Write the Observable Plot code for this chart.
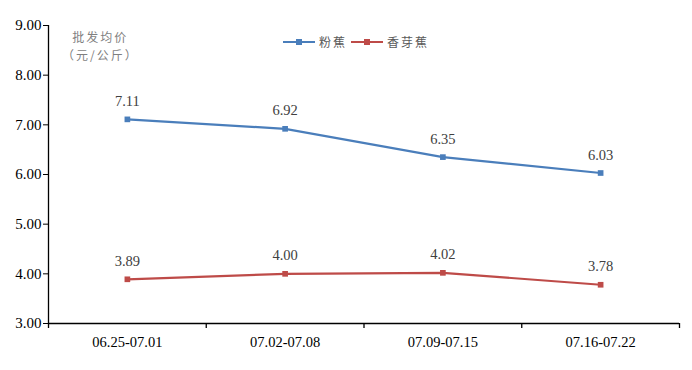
<!DOCTYPE html>
<html><head><meta charset="utf-8">
<script src="https://cdn.jsdelivr.net/npm/d3@7"></script>
<script src="https://cdn.jsdelivr.net/npm/@observablehq/plot@0.6"></script>
<style>
body{margin:0;background:#fff;}
#wrap{position:relative;width:692px;height:370px;}
#legend{position:absolute;left:283px;top:33px;font:12px "Noto Sans CJK SC",sans-serif;color:#595959;display:flex;align-items:center;letter-spacing:2px;}
#legend .sw{position:relative;width:32px;height:2px;margin-right:4px;}
#legend .sw i{position:absolute;left:13px;top:-2px;width:6px;height:6px;}
#ytitle{position:absolute;left:62px;top:28px;font:12px "Noto Sans CJK SC",sans-serif;color:#7f7f7f;text-align:center;letter-spacing:2px;line-height:18px;}
#ytitle div{height:18px;}
</style></head><body>
<div id="wrap"><div id="chart"></div>
<div id="ytitle"><div>批发均价</div><div>（元/公斤）</div></div>
<div id="legend"></div></div>
<script>
const categories = ["06.25-07.01","07.02-07.08","07.09-07.15","07.16-07.22"];
const fenjiao = [7.11, 6.92, 6.35, 6.03];
const xiangyajiao = [3.89, 4.00, 4.02, 3.78];
const seriesNames = ["粉蕉","香芽蕉"];
const colors = ["#4a7ebb","#be4b48"];
const yTicks = [3,4,5,6,7,8,9];

const rows = [];
categories.forEach((c,i)=>{
  rows.push({i: i+0.5, v: fenjiao[i], s: seriesNames[0]});
  rows.push({i: i+0.5, v: xiangyajiao[i], s: seriesNames[1]});
});
const bounds = d3.range(categories.length+1);
const centers = categories.map((c,i)=>i+0.5);

const chart = Plot.plot({
  width: 692, height: 370,
  marginLeft: 48, marginRight: 13, marginTop: 25, marginBottom: 47,
  style: {fontFamily: "'Liberation Serif', serif", fontSize: "15px", color: "#000"},
  x: {type: "linear", domain: [0, categories.length], label: null},
  y: {domain: [3, 9], label: null},
  color: {domain: seriesNames, range: colors},
  marks: [
    Plot.axisY({ticks: yTicks, tickFormat: d => d.toFixed(2), tickSize: 5, tickPadding: 2, fontSize: 15, stroke: "#000", label: null}),
    Plot.axisX({ticks: bounds, tickFormat: () => "", tickSize: 5, stroke: "#000", strokeWidth: 1.3, label: null}),
    Plot.axisX({ticks: centers, tickFormat: d => categories[Math.round(d-0.5)], tickSize: 0, tickPadding: 13, fontSize: 14.5, label: null}),
    Plot.ruleX([0], {stroke: "#000", strokeWidth: 1.3}),
    Plot.ruleY([3], {stroke: "#000", strokeWidth: 1.3}),
    Plot.line(rows, {x: "i", y: "v", z: "s", stroke: "s", strokeWidth: 2.2}),
    Plot.dot(rows, {x: "i", y: "v", fill: "s", symbol: "square", r: 3.2}),
    Plot.text(rows, {x: "i", y: "v", text: d => d.v.toFixed(2), dy: -18, fill: "#404040", fontSize: 14.5})
  ]
});
document.getElementById("chart").appendChild(chart);

const lg = document.getElementById("legend");
seriesNames.forEach((n,k)=>{
  const sw = document.createElement("span"); sw.className="sw"; sw.style.background=colors[k];
  const m = document.createElement("i"); m.style.background=colors[k]; sw.appendChild(m);
  const t = document.createElement("span"); t.textContent=n; t.style.marginRight="4px";
  lg.appendChild(sw); lg.appendChild(t);
});
</script>
</body></html>
